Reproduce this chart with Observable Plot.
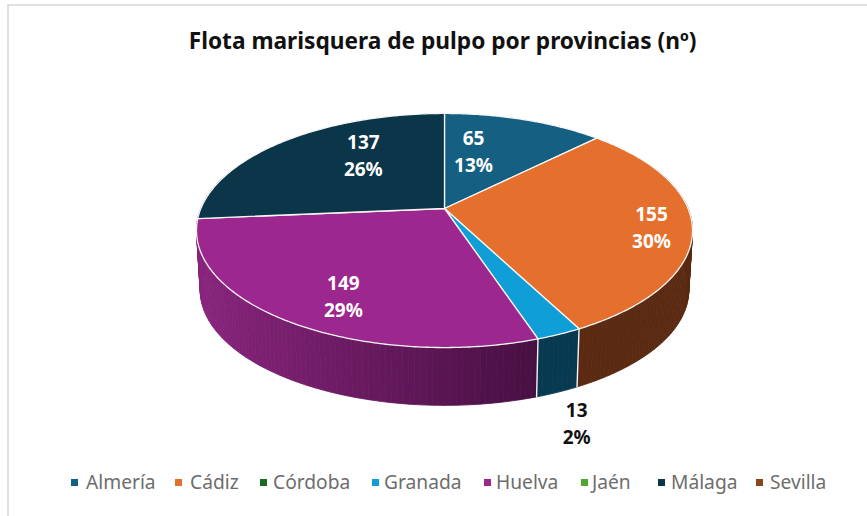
<!DOCTYPE html>
<html><head><meta charset="utf-8">
<script src="https://cdn.jsdelivr.net/npm/d3@7"></script>
<script src="https://cdn.jsdelivr.net/npm/@observablehq/plot@0.6"></script>
<style>
html,body{margin:0;padding:0;background:#fff}
#frame{position:relative;width:867px;height:516px;overflow:hidden;font-family:"Noto Sans",sans-serif}
#frame:before{content:"";position:absolute;left:6.5px;top:3.5px;right:-4px;bottom:-4px;border:2px solid #e0e0e0}
#title{position:absolute;left:0;right:0;top:26px;text-align:center;font-size:22.7px;font-weight:700;color:#111;line-height:30px;transform:translateX(9px)}
#chart{position:absolute;left:0;top:70px}
#legend{position:absolute;left:0;top:468px;width:867px;height:28px;color:#6d6d6d;font-size:19.2px;line-height:28px}
.it{position:absolute;top:0;white-space:nowrap}
.sw{position:absolute;top:10.5px;width:7px;height:7px}
</style></head><body>
<div id="frame"><div id="title"></div><div id="chart"></div><div id="legend"></div></div>
<script>
const chartTitle = "Flota marisquera de pulpo por provincias (nº)";
const provinces = ["Almería","Cádiz","Córdoba","Granada","Huelva","Jaén","Málaga","Sevilla"];
const fleet     = [65,155,0,13,149,0,137,0];
const shares    = [13,30,0,2,29,0,26,0];
const colors    = ["#156082","#E5702E","#196B24","#0F9ED5","#9C278F","#4EA72E","#0B3549","#8C4519"];
// side wall colour at the start and end of each slice's sweep
const sideFrom  = ["#0c3a4f","#5a2a12","#0f4016","#073a50","#470f42","#2f641b","#88247c","#54290f"];
const sideTo    = ["#0c3a4f","#5a2a12","#0f4016","#073a50","#88247c","#2f641b","#88247c","#54290f"];
// label anchor inside each slice: fraction of the sweep, fraction of the radius
const labelAlong  = [0.31,0.527,0.5,1.27,0.444,0.5,0.626,0.5];
const labelRadius = [0.563,0.844,0.5,1.464,0.775,0.5,0.62,0.5];

// projected disc: unit circle seen in perspective
const persp = -0.188, squash = 0.4635, wallDrop = 0.246, wallShrink = 0.985;
const px = 243.6, ox = 444, oy = 208 - 70;
const project = (r, t, low = false) => {
  const X = r * Math.sin(t), Y = -r * Math.cos(t);
  const d = 1 + persp * Y;
  const s = low ? wallShrink : 1;
  return {x: s * X / d, y: s * squash * Y / d + (low ? wallDrop : 0), far: Y};
};

const total = d3.sum(fleet);
let acc = 0;
const slices = provinces.map((name, i) => {
  const a0 = acc / total * 2 * Math.PI; acc += fleet[i];
  return {name, i, a0, a1: acc / total * 2 * Math.PI};
});
const stepsOf = s => d3.range(0, Math.ceil((s.a1 - s.a0) / 0.01) + 1).map((k, _, arr) => s.a0 + (s.a1 - s.a0) * k / (arr.length - 1));

const topRows = [], wallRows = [], seamRows = [];
for (const s of slices) {
  if (fleet[s.i] === 0) continue;
  const id = "t" + s.i;
  topRows.push({id, color: colors[s.i], ...project(0, 0)});
  for (const t of stepsOf(s)) topRows.push({id, color: colors[s.i], ...project(1, t)});
  topRows.push({id, color: colors[s.i], ...project(0, 0)});
  // wall strips, shaded along the horizontal run of the slice
  const n = Math.max(1, Math.round((s.a1 - s.a0) / 0.02));
  const ramp = d3.interpolateRgb(sideFrom[s.i], sideTo[s.i]);
  const xa = project(1, s.a0).x, xb = project(1, s.a1).x;
  const strips = d3.range(n).map(k => {
    const t0 = s.a0 + (s.a1 - s.a0) * k / n, t1 = s.a0 + (s.a1 - s.a0) * (k + 1) / n;
    const u = (project(1, (t0 + t1) / 2).x - xa) / (xb - xa);
    return {id: "w" + s.i + "-" + k, t0, t1, color: d3.color(ramp(Math.max(0, Math.min(1, u)))).formatHex()};
  });
  for (const w of strips) {
    if (-Math.cos((w.t0 + w.t1) / 2) < -0.35) continue;
    for (const [r, t, low] of [[1, w.t0, false], [1, w.t1, false], [1, w.t1, true], [1, w.t0, true], [1, w.t0, false]])
      wallRows.push({id: w.id, color: w.color, ...project(r, t, low)});
  }
}
for (const s of slices) {
  if (fleet[s.i] === 0) continue;
  if (-Math.cos(s.a1) > 0.3) {
    seamRows.push({id: "s" + s.i, ...project(1, s.a1, false)});
    seamRows.push({id: "s" + s.i, ...project(1, s.a1, true)});
  }
}
const labels = slices.filter(s => fleet[s.i] > 0).map(s => {
  const t = s.a0 + (s.a1 - s.a0) * labelAlong[s.i];
  return {text: fleet[s.i] + "\n" + shares[s.i] + "%", color: labelRadius[s.i] > 1 ? "#111111" : "#ffffff", ...project(labelRadius[s.i], t)};
});

const plot = Plot.plot({
  width: 867, height: 390, margin: 0, axis: null,
  x: {domain: [-ox / px, (867 - ox) / px], range: [0, 867]},
  y: {domain: [-oy / px, (390 - oy) / px], range: [0, 390]},
  color: {type: "identity"},
  marks: [
    Plot.line(wallRows, {x: "x", y: "y", z: "id", fill: "color", stroke: "color", strokeWidth: 0.8, curve: "linear"}),
    Plot.line(seamRows, {x: "x", y: "y", z: "id", stroke: "#f4f4f4", strokeWidth: 1.4, curve: "linear"}),
    Plot.line(topRows, {x: "x", y: "y", z: "id", fill: "color", stroke: "#f6f6f6", strokeWidth: 1.3, curve: "linear"}),
    Plot.text(labels, {x: "x", y: "y", dx: -1, dy: -3, text: "text", fill: "color", fontSize: 19, fontWeight: 700, lineHeight: 1.45, fontFamily: "Noto Sans"})
  ]
});
document.getElementById("chart").append(plot);
document.getElementById("title").textContent = chartTitle;

const swatchX = [71,175,260,372,484,581,658,756];
const textX   = [86,190,273,384,496,592,671,770];
const legend = document.getElementById("legend");
provinces.forEach((p, i) => {
  const sw = document.createElement("span"); sw.className = "sw"; sw.style.left = swatchX[i] + "px"; sw.style.background = colors[i];
  const tx = document.createElement("span"); tx.className = "it"; tx.style.left = textX[i] + "px"; tx.textContent = p;
  legend.append(sw, tx);
});
</script>
</body></html>
